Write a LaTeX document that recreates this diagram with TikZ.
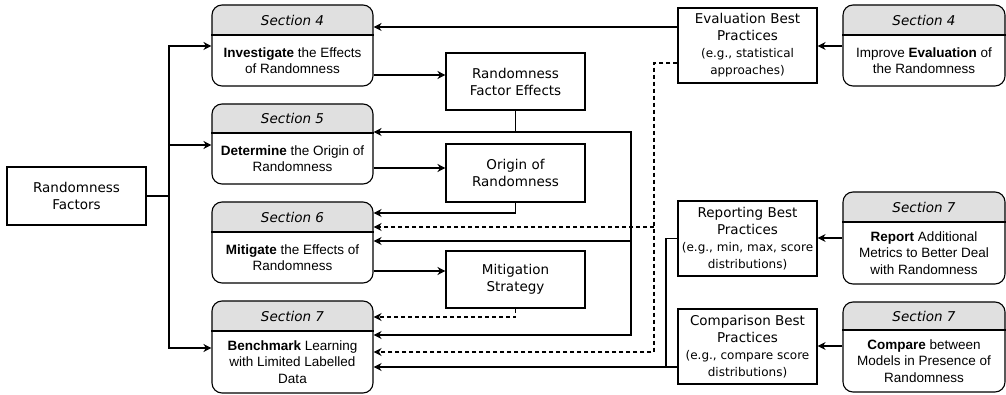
\documentclass[tikz,border=0pt]{standalone}
\usepackage{fontspec}
\setmainfont{Liberation Sans}
\newfontfamily\dvs{DejaVu Sans}
\usetikzlibrary{arrows.meta}
\definecolor{hdr}{HTML}{E0E0E0}
\newcommand{\smtxt}{\fontsize{12}{16}\selectfont}
\tikzset{
  conn/.style={line width=1.1pt},
  arr/.style={conn,-{Stealth[length=8pt,width=8pt,inset=2.5pt]}},
  dsh/.style={dash pattern=on 4pt off 3pt},
  secframe/.style={draw, line width=1.1pt, rounded corners=10pt, inner sep=0pt},
  pbox/.style={draw, line width=1.1pt, inner sep=0pt, align=center,
    font=\dvs\fontsize{13.5}{17}\selectfont, minimum width=139pt},
  hdrtext/.style={font=\dvs\itshape\fontsize{13.5}{16}\selectfont, inner sep=0pt},
  bodytext/.style={font=\fontsize{13.5}{16.5}\selectfont, align=center, inner sep=0pt},
}
\newcommand{\secbox}[8]{%
  \begin{scope}
    \clip (#2,#3) rectangle (#4,#6);
    \fill[hdr, rounded corners=10pt] (#2,#3) rectangle (#4,#5);
  \end{scope}
  \node[secframe, minimum width={#4-#2}, minimum height={#5-#3}] (#1) at ({(#2+#4)/2},{(#3+#5)/2}) {};
  \draw[line width=1.1pt] (#1.west |- 0,#6) -- (#1.east |- 0,#6);
  \node[hdrtext] (#1h) at ({(#2+#4)/2},{(#3+#6)/2}) {#7};
  \node[bodytext] (#1b) at ({(#2+#4)/2},{(#6+#5)/2}) {#8};
}
\begin{document}
\begin{tikzpicture}[x=1pt,y=-1pt]
\useasboundingbox (0,0) rectangle (1006,395);

% section boxes (left)
\secbox{s4}{212}{5}{373}{86}{35}{Section 4}{\textbf{Investigate} the Effects\\of Randomness}
\secbox{s5}{212}{104}{373}{184}{133}{Section 5}{\textbf{Determine} the Origin of\\Randomness}
\secbox{s6}{212}{202}{373}{283}{232}{Section 6}{\textbf{Mitigate} the Effects of\\Randomness}
\secbox{s7}{212}{301}{373}{393}{331}{Section 7}{\textbf{Benchmark} Learning\\with Limited Labelled\\Data}
% section boxes (right)
\secbox{r4}{843}{5}{1005}{86}{35}{Section 4}{Improve \textbf{Evaluation} of\\the Randomness}
\secbox{r7a}{843}{192}{1005}{284}{222}{Section 7}{\textbf{Report} Additional\\Metrics to Better Deal\\with Randomness}
\secbox{r7b}{843}{302}{1005}{392}{330}{Section 7}{\textbf{Compare} between\\Models in Presence of\\Randomness}

% plain boxes
\node[pbox, minimum height=58pt] (rf) at (76.5,196) {Randomness\\Factors};
\node[pbox, minimum height=57pt] (rfe) at (515.5,81.5) {Randomness\\Factor Effects};
\node[pbox, minimum height=58pt] (oor) at (515.5,173) {Origin of\\Randomness};
\node[pbox, minimum height=57pt] (ms) at (515.5,279.5) {Mitigation\\Strategy};
\node[pbox, minimum height=75pt] (ebp) at (747.5,45.5) {Evaluation Best\\Practices\\{\smtxt (e.g., statistical}\\{\smtxt approaches)}};
\node[pbox, minimum height=75pt] (rbp) at (747.5,238.5) {Reporting Best\\Practices\\{\smtxt (e.g., min, max, score}\\{\smtxt distributions)}};
\node[pbox, minimum height=75pt] (cbp) at (747.5,346.5) {Comparison Best\\Practices\\{\smtxt (e.g., compare score}\\{\smtxt distributions)}};

% bus coordinates
\coordinate (vL) at (169,0);
\coordinate (vA) at (631,0);
\coordinate (vB) at (654,0);
\coordinate (vC) at (666,0);

% randomness factors to sections
\draw[conn] (rf.east) -- (rf.east -| vL);
\draw[arr] (rf.east -| vL) |- (s4.west |- 0,46);
\draw[arr] (vL |- 0,145) -- (s5.west |- 0,145);
\draw[arr] (rf.east -| vL) |- (s7.west |- 0,348);

% sections to outcome boxes
\draw[arr] (s4.east |- 0,75) -- (rfe.west |- 0,75);
\draw[arr] (s5.east |- 0,168) -- (oor.west |- 0,168);
\draw[arr] (s6.east |- 0,271) -- (ms.west |- 0,271);

% randomness factor effects feedback
\draw[arr] (rfe.south) |- (s5.east |- 0,132);
\draw[arr] (rfe.south |- 0,132) -- (vA |- 0,132) -- (vA |- 0,335) -- (s7.east |- 0,335);
\draw[arr] (vA |- 0,241) -- (s6.east |- 0,241);

% origin of randomness
\draw[arr] (oor.south) |- (s6.east |- 0,213);
% mitigation strategy
\draw[arr,dsh] (ms.south) |- (s7.east |- 0,317);

% evaluation best practices
\draw[arr] (ebp.west |- 0,27) -- (s4.east |- 0,27);
\draw[arr,dsh] (ebp.west |- 0,63) -- (vB |- 0,63) -- (vB |- 0,352) -- (s7.east |- 0,352);
\draw[arr,dsh] (vB |- 0,227) -- (s6.east |- 0,227);

% reporting / comparison
\draw[conn] (rbp.west) -- (vC |- rbp.west) -- (vC |- 0,367);
\draw[arr] (cbp.west |- 0,367) -- (s7.east |- 0,367);

% right sections to best practices
\draw[arr] (r4.west |- 0,46) -- (ebp.east |- 0,46);
\draw[arr] (r7a.west |- 0,238) -- (rbp.east |- 0,238);
\draw[arr] (r7b.west |- 0,346) -- (cbp.east |- 0,346);
\end{tikzpicture}
\end{document}
